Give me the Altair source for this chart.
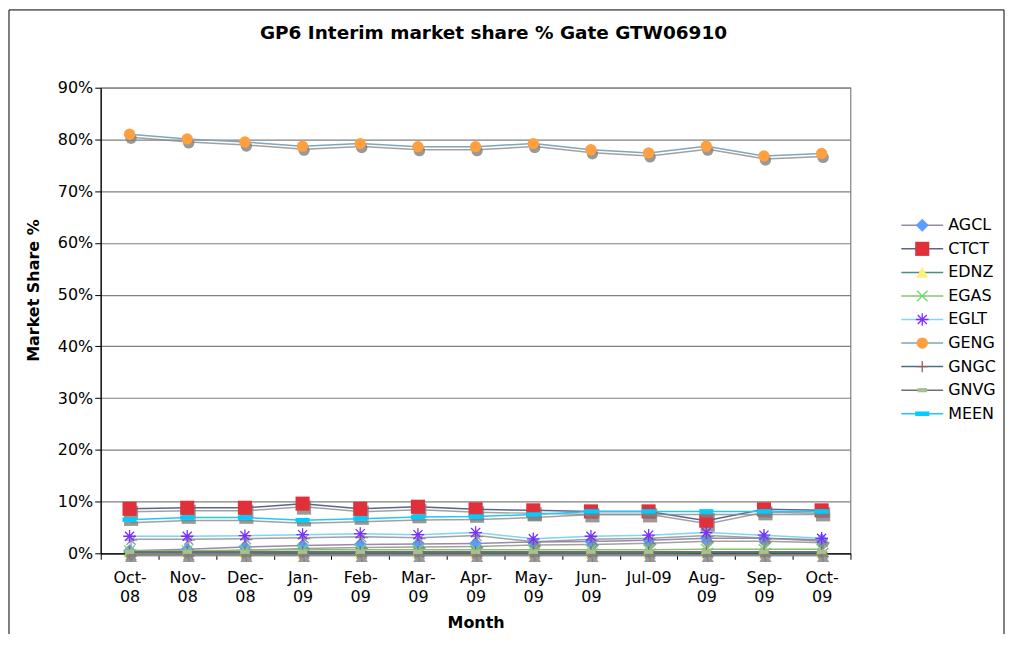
import altair as alt
import pandas as pd

months = ["Oct-08", "Nov-08", "Dec-08", "Jan-09", "Feb-09", "Mar-09", "Apr-09",
          "May-09", "Jun-09", "Jul-09", "Aug-09", "Sep-09", "Oct-09"]
series_names = ["AGCL", "CTCT", "EDNZ", "EGAS", "EGLT", "GENG", "GNGC", "GNVG", "MEEN"]
title_text = ["GP6 Interim market share % Gate GTW06910"]

AGCL = [0.5, 0.8, 1.2, 1.5, 1.7, 1.8, 1.9, 2.2, 2.3, 2.5, 2.9, 2.9, 2.6]
CTCT = [8.6, 8.8, 8.8, 9.6, 8.6, 9.0, 8.5, 8.3, 8.1, 8.1, 6.3, 8.5, 8.3]
EDNZ = [0.1, 0.1, 0.1, 0.1, 0.1, 0.1, 0.1, 0.1, 0.1, 0.1, 0.1, 0.1, 0.1]
EGAS = [0.5, 0.5, 0.6, 0.7, 0.7, 0.7, 0.7, 0.7, 0.7, 0.7, 0.8, 0.8, 0.8]
EGLT = [3.3, 3.3, 3.4, 3.6, 3.8, 3.6, 4.0, 2.8, 3.3, 3.5, 4.0, 3.5, 2.9]
GENG = [81.0, 80.1, 79.5, 78.7, 79.2, 78.6, 78.6, 79.2, 78.0, 77.4, 78.7, 76.8, 77.3]
GNGC = [0.2, 0.2, 0.2, 0.2, 0.2, 0.2, 0.2, 0.2, 0.2, 0.2, 0.2, 0.2, 0.2]
GNVG = [0.3, 0.3, 0.3, 0.3, 0.3, 0.3, 0.3, 0.3, 0.3, 0.3, 0.3, 0.3, 0.3]
MEEN = [6.5, 6.9, 6.9, 6.4, 6.7, 7.0, 7.1, 7.5, 8.1, 8.1, 8.1, 8.1, 8.1]

values = {"AGCL": AGCL, "CTCT": CTCT, "EDNZ": EDNZ, "EGAS": EGAS, "EGLT": EGLT,
          "GENG": GENG, "GNGC": GNGC, "GNVG": GNVG, "MEEN": MEEN}

line_colors = {"AGCL": "#9a8aa6", "CTCT": "#5c668c", "EDNZ": "#4a9080", "EGAS": "#88c070",
               "EGLT": "#80d4f4", "GENG": "#7fa6ba", "GNGC": "#4d7080", "GNVG": "#707070",
               "MEEN": "#1ec8ff"}

ASTER = "M-1,0L1,0M0,-1L0,1M-0.72,-0.72L0.72,0.72M-0.72,0.72L0.72,-0.72"
XSHAPE = "M-1,-1L1,1M-1,1L1,-1"
PLUS = "M-1,0L1,0M0,-1L0,1"
RECT_S = "M-1,-0.45L1,-0.45L1,0.45L-1,0.45Z"
RECT_W = "M-1,-0.32L1,-0.32L1,0.32L-1,0.32Z"

markers = {
    "AGCL": dict(shape="diamond", size=170, filled=True, fill="#5c9dff"),
    "CTCT": dict(shape="square", size=200, filled=True, fill="#e0303a"),
    "EDNZ": dict(shape="triangle-up", size=150, filled=True, fill="#fff07c"),
    "EGAS": dict(shape=XSHAPE, size=110, filled=False, stroke="#66dd66", strokeWidth=1.3),
    "EGLT": dict(shape=ASTER, size=160, filled=False, stroke="#7b2fff", strokeWidth=1.3),
    "GENG": dict(shape="circle", size=130, filled=True, fill="#ffa040"),
    "GNGC": dict(shape=PLUS, size=130, filled=False, stroke="#a05a5a", strokeWidth=1.3),
    "GNVG": dict(shape=RECT_S, size=90, filled=True, fill="#a8c090"),
    "MEEN": dict(shape=RECT_W, size=200, filled=True, fill="#00ccff"),
}

rows = []
for s in series_names:
    for m, v in zip(months, values[s]):
        rows.append({"series": s, "month": m, "value": v})
df = pd.DataFrame(rows)
legend_df = pd.DataFrame({"series": series_names})

FONT = "DejaVu Sans"

x_enc = alt.X("month:O", sort=months, bandPosition=0.5,
              scale=alt.Scale(type="band", domain=months, paddingInner=0, paddingOuter=0),
              axis=alt.Axis(title="Month", labelAngle=0, tickBand="extent", grid=False,
                            labelExpr="datum.label == 'Jul-09' ? 'Jul-09' : [slice(datum.label, 0, 4), slice(datum.label, 4)]",
                            labelLineHeight=19, labelPadding=10, titlePadding=10))
y_enc = alt.Y("value:Q", scale=alt.Scale(domain=[0, 90], nice=False),
              axis=alt.Axis(title="Market Share %", values=list(range(0, 91, 10)),
                            labelExpr="datum.value + '%'", grid=True,
                            titleX=-67, titleY=203, titleAngle=-90,
                            titleAlign="center", titleBaseline="middle"))

data_layers = []
for s in series_names:
    base = alt.Chart(df).transform_filter(alt.datum.series == s)
    mk = markers[s]
    sh = {k: v for k, v in mk.items() if k in ("shape", "size", "filled", "strokeWidth")}
    if mk["filled"]:
        sh["fill"] = "#808080"
    else:
        sh["stroke"] = "#808080"
    data_layers.append(base.mark_line(color="#8a8a8a", strokeWidth=1.5, xOffset=1.5, yOffset=3, opacity=0.8)
                       .encode(x=x_enc, y=y_enc))
    data_layers.append(base.mark_point(opacity=0.8, xOffset=1.5, yOffset=4, **sh).encode(x=x_enc, y=y_enc))
    data_layers.append(base.mark_line(color=line_colors[s], strokeWidth=1.5).encode(x=x_enc, y=y_enc))
    data_layers.append(base.mark_point(opacity=1, **mk).encode(x=x_enc, y=y_enc))

data_chart = alt.layer(*data_layers)

leg_y = alt.Y("series:N", scale=alt.Scale(type="point", domain=series_names, range=[138, 327], padding=0),
              axis=None)
legend_layers = []
for s in series_names:
    lb = alt.Chart(legend_df).transform_filter(alt.datum.series == s)
    legend_layers.append(lb.mark_rule(color=line_colors[s], strokeWidth=1.5)
                         .encode(x=alt.value(803), x2=alt.value(845), y=leg_y))
    legend_layers.append(lb.mark_point(opacity=1, **markers[s]).encode(x=alt.value(824), y=leg_y))
legend_layers.append(alt.Chart(legend_df).mark_text(align="left", baseline="middle", fontSize=16, font=FONT,
                                                    color="black")
                     .encode(x=alt.value(850), y=leg_y, text="series:N"))
legend_chart = alt.layer(*legend_layers)

one = pd.DataFrame({"a": [0]})
frame_top = alt.Chart(one).mark_rule(color="black", strokeWidth=1).encode(
    x=alt.value(-92), x2=alt.value(906), y=alt.value(-78))
frame_left = alt.Chart(one).mark_rule(color="black", strokeWidth=1).encode(
    x=alt.value(-92), y=alt.value(-78), y2=alt.value(548))
frame_right = alt.Chart(one).mark_rule(color="black", strokeWidth=1).encode(
    x=alt.value(906), y=alt.value(-78), y2=alt.value(548))

title = alt.Chart(pd.DataFrame({"t": title_text})).mark_text(
    fontSize=18.5, font=FONT, fontWeight="bold", color="black", align="center", baseline="middle").encode(
    x=alt.value(394), y=alt.value(-55), text="t:N")

chart = alt.layer(frame_top, frame_left, frame_right, title, data_chart, legend_chart).resolve_scale(
    y="independent").properties(
    width=752, height=467,
    padding=0,
).configure_view(stroke="#808080", strokeWidth=1.2).configure_axis(
    labelFont=FONT, titleFont=FONT, labelFontSize=16, titleFontSize=16, titleFontWeight="bold",
    labelColor="black", titleColor="black", domainColor="black", tickColor="black",
    tickSize=6, gridColor="#808080", gridWidth=1.2, domainWidth=1.2,
)

chart.save("out.html", embed_options={"renderer": "svg", "actions": False})
